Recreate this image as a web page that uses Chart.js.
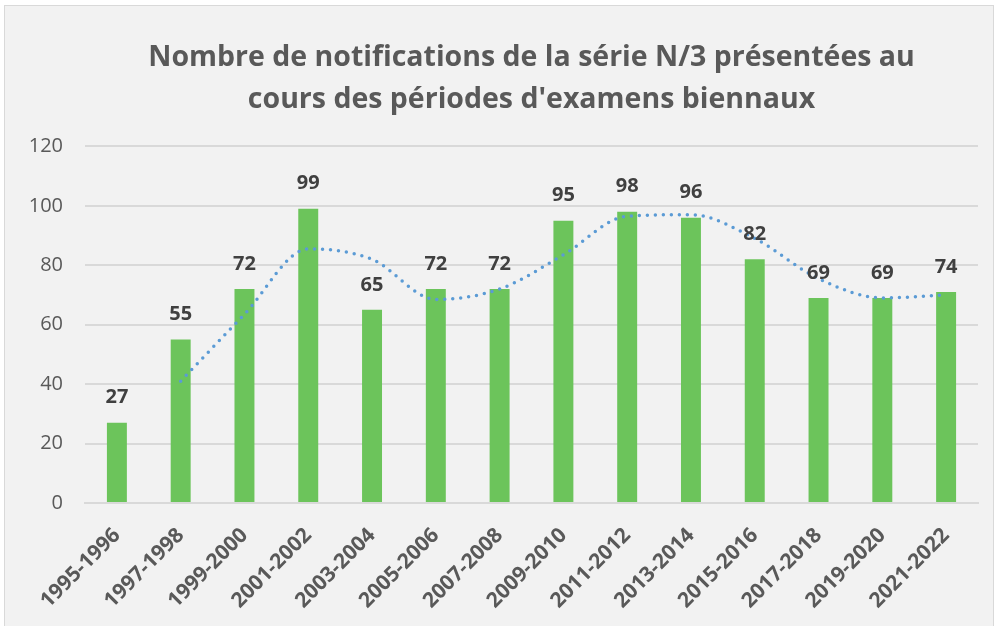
<!DOCTYPE html>
<html>
<head>
<meta charset="utf-8">
<script src="https://cdn.jsdelivr.net/npm/chart.js@4"></script>
<style>
    html, body { margin: 0; padding: 0; background: #ffffff; }
    #frame {
        position: absolute;
        left: 4px;
        top: 5px;
        width: 988px;
        height: 625px;
        background: #f2f2f2;
        border: 1px solid #d9d9d9;
    }
    #chart { display: block; }
</style>
</head>
<body>
<div id="frame"><canvas id="chart" width="988" height="625"></canvas></div>
<script>
// Données
const categories = ['1995-1996', '1997-1998', '1999-2000', '2001-2002', '2003-2004', '2005-2006', '2007-2008',
    '2009-2010', '2011-2012', '2013-2014', '2015-2016', '2017-2018', '2019-2020', '2021-2022'];
const notifications = [27, 55, 72, 99, 65, 72, 72, 95, 98, 96, 82, 69, 69, 71];
const labelTexts = ['27', '55', '72', '99', '65', '72', '72', '95', '98', '96', '82', '69', '69', '74'];
const trend = [null, 41, 63.5, 85.5, 82, 68.5, 72, 83.5, 96.5, 97, 89, 75.5, 69, 70];
const yTicks = [0, 20, 40, 60, 80, 100, 120];

const FONT = '"Open Sans", "DejaVu Sans", sans-serif';
const GREY = '#595959';

// Étiquettes de valeurs au-dessus des barres
const valueLabels = {
    id: 'valueLabels',
    afterDatasetsDraw(chart) {
        const meta = chart.getDatasetMeta(1);
        const ctx = chart.ctx;
        ctx.save();
        ctx.font = 'bold 20px ' + FONT;
        ctx.fillStyle = '#404040';
        ctx.textAlign = 'center';
        ctx.textBaseline = 'middle';
        meta.data.forEach((bar, i) => {
            ctx.fillText(labelTexts[i], bar.x, bar.y - 25);
        });
        ctx.restore();
    }
};

new Chart(document.getElementById('chart'), {
    type: 'bar',
    data: {
        labels: categories,
        datasets: [
            {
                type: 'line',
                label: 'Moyenne mobile',
                data: trend,
                borderColor: '#5b9bd5',
                borderWidth: 3.5,
                borderDash: [0, 8],
                borderCapStyle: 'round',
                pointRadius: 0,
                cubicInterpolationMode: 'monotone',
                fill: false,
                order: 0
            },
            {
                label: 'Notifications',
                data: notifications,
                backgroundColor: '#6cc45b',
                barPercentage: 0.313,
                categoryPercentage: 1,
                order: 1
            }
        ]
    },
    plugins: [valueLabels],
    options: {
        responsive: false,
        animation: false,
        layout: { padding: { left: 0, right: 15, top: 0, bottom: 0 } },
        plugins: {
            legend: { display: false },
            tooltip: { enabled: false },
            title: {
                display: true,
                fullSize: false,
                text: ['Nombre de notifications de la série N/3 présentées au', 'cours des périodes d\'examens biennaux'],
                color: GREY,
                font: { family: FONT, size: 28.5, weight: 'bold', lineHeight: 1.48 },
                padding: { top: 31, bottom: 25 }
            }
        },
        scales: {
            x: {
                grid: { display: false },
                border: { display: true, color: '#d9d9d9', width: 2 },
                ticks: {
                    color: GREY,
                    font: { family: FONT, size: 21, weight: 'bold' },
                    minRotation: 45,
                    maxRotation: 45,
                    padding: 12
                },
                afterFit(scale) { scale.height = 128; }
            },
            y: {
                min: 0,
                max: 120,
                afterBuildTicks(scale) { scale.ticks = yTicks.map(v => ({ value: v })); },
                grid: { color: '#d9d9d9', lineWidth: 2, drawTicks: false },
                border: { display: false },
                ticks: {
                    color: GREY,
                    font: { family: FONT, size: 20 },
                    padding: 22
                },
                afterFit(scale) { scale.width = 80; }
            }
        }
    }
});
</script>
</body>
</html>
